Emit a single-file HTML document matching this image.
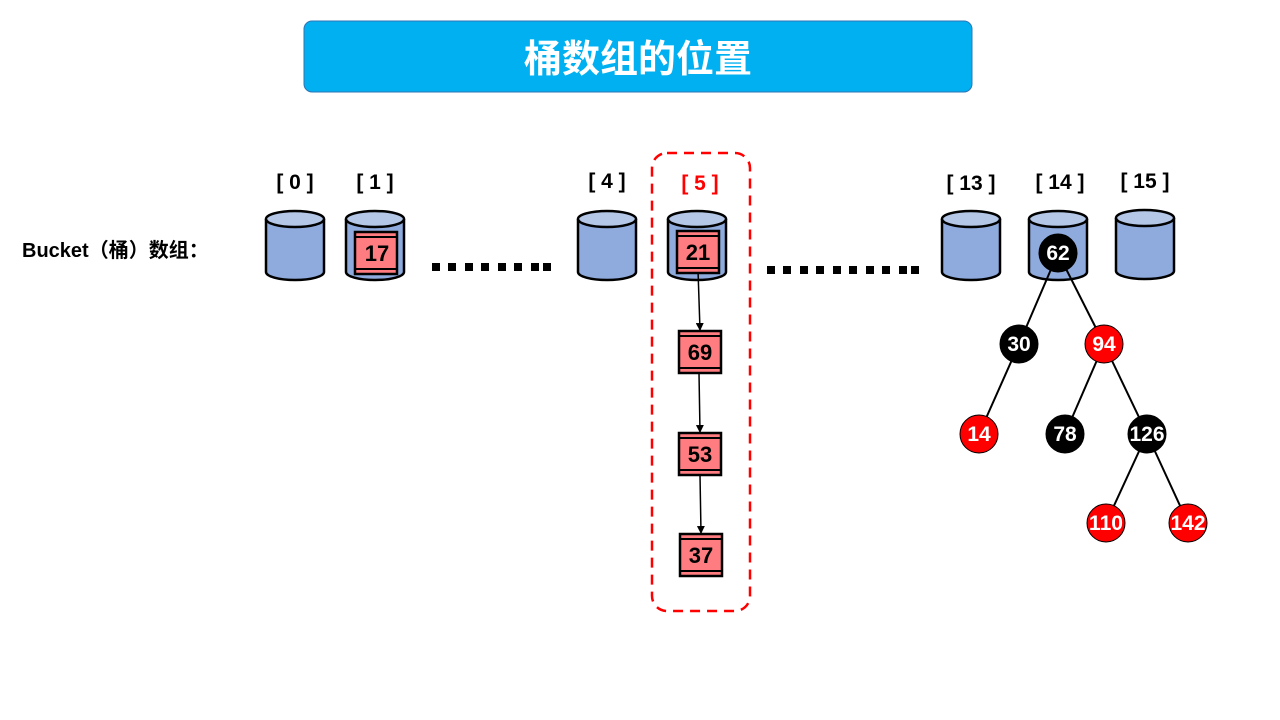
<!DOCTYPE html>
<html><head><meta charset="utf-8"><style>
html,body{margin:0;padding:0;background:#fff;width:1280px;height:720px;overflow:hidden}
text{font-family:"Liberation Sans","Noto Sans CJK SC",sans-serif;font-weight:bold}
</style></head><body>
<svg width="1280" height="720" viewBox="0 0 1280 720" xmlns="http://www.w3.org/2000/svg">
<defs>
<marker id="ar" markerWidth="8" markerHeight="8" refX="7" refY="4" orient="auto" markerUnits="userSpaceOnUse"><path d="M0,0 L8,4 L0,8 z" fill="#000"/></marker>
<g id="cyl">
<path d="M0,8 L0,61 A29,8 0 0 0 58,61 L58,8" fill="#8faadc" stroke="#000" stroke-width="2.5"/>
<ellipse cx="29" cy="8" rx="29" ry="8" fill="#b4c7e7" stroke="#000" stroke-width="2.5"/>
</g>
<g id="box">
<rect x="0" y="0" width="42" height="42" fill="#ff7c80" stroke="#000" stroke-width="2.5"/>
<line x1="0" y1="5" x2="42" y2="5" stroke="#000" stroke-width="2"/>
<line x1="0" y1="37" x2="42" y2="37" stroke="#000" stroke-width="2"/>
</g>
</defs>
<rect x="304" y="21" width="668" height="71" rx="8" fill="#00b0f0" stroke="#2e75b6" stroke-width="1"/>
<text x="638" y="72" font-size="38" fill="#fff" text-anchor="middle">桶数组的位置</text>

<text x="22" y="257" font-size="20" fill="#000">Bucket（桶）数组：</text>

<g font-size="21" text-anchor="middle">
<text x="295" y="189">[ 0 ]</text>
<text x="375" y="189">[ 1 ]</text>
<text x="607" y="188">[ 4 ]</text>
<text x="700" y="190" fill="#f00">[ 5 ]</text>
<text x="971" y="190">[ 13 ]</text>
<text x="1060" y="189">[ 14 ]</text>
<text x="1145" y="188">[ 15 ]</text>
</g>

<use href="#cyl" x="266" y="211"/>
<use href="#cyl" x="346" y="211"/>
<use href="#cyl" x="578" y="211"/>
<use href="#cyl" x="668" y="211"/>
<use href="#cyl" x="942" y="211"/>
<use href="#cyl" x="1029" y="211"/>
<use href="#cyl" x="1116" y="210"/>

<g fill="#000">
<rect x="432" y="263" width="8" height="8"/><rect x="448" y="263" width="8" height="8"/><rect x="465" y="263" width="8" height="8"/><rect x="481" y="263" width="8" height="8"/><rect x="498" y="263" width="8" height="8"/><rect x="514" y="263" width="8" height="8"/><rect x="531" y="263" width="8" height="8"/><rect x="543" y="263" width="8" height="8"/>
<rect x="767" y="266" width="8" height="8"/><rect x="783" y="266" width="8" height="8"/><rect x="800" y="266" width="8" height="8"/><rect x="816" y="266" width="8" height="8"/><rect x="833" y="266" width="8" height="8"/><rect x="849" y="266" width="8" height="8"/><rect x="866" y="266" width="8" height="8"/><rect x="882" y="266" width="8" height="8"/><rect x="899" y="266" width="8" height="8"/><rect x="911" y="266" width="8" height="8"/>
</g>

<g stroke="#000" stroke-width="1.5">
<line x1="698" y1="270" x2="700" y2="330" marker-end="url(#ar)"/>
<line x1="699" y1="373" x2="700" y2="432" marker-end="url(#ar)"/>
<line x1="700" y1="475" x2="701" y2="533" marker-end="url(#ar)"/>
</g>

<use href="#box" x="355" y="232"/>
<use href="#box" x="677" y="231"/>
<use href="#box" x="679" y="331"/>
<use href="#box" x="679" y="433"/>
<use href="#box" x="680" y="534"/>
<g font-size="22" text-anchor="middle">
<text x="377" y="261">17</text>
<text x="698" y="260">21</text>
<text x="700" y="360">69</text>
<text x="700" y="462">53</text>
<text x="701" y="563">37</text>
</g>

<rect x="652" y="153" width="98" height="458" rx="15" fill="none" stroke="#f00" stroke-width="2.5" stroke-dasharray="10,7"/>

<g stroke="#000" stroke-width="2">
<line x1="1058" y1="253" x2="1019" y2="344"/>
<line x1="1058" y1="253" x2="1104" y2="344"/>
<line x1="1019" y1="344" x2="979" y2="434"/>
<line x1="1104" y1="344" x2="1065" y2="434"/>
<line x1="1104" y1="344" x2="1147" y2="434"/>
<line x1="1147" y1="434" x2="1106" y2="523"/>
<line x1="1147" y1="434" x2="1188" y2="523"/>
</g>
<g stroke="#000" stroke-width="1">
<circle cx="1058" cy="253" r="19" fill="#000"/>
<circle cx="1019" cy="344" r="19" fill="#000"/>
<circle cx="1104" cy="344" r="19" fill="#f00"/>
<circle cx="979" cy="434" r="19" fill="#f00"/>
<circle cx="1065" cy="434" r="19" fill="#000"/>
<circle cx="1147" cy="434" r="19" fill="#000"/>
<circle cx="1106" cy="523" r="19" fill="#f00"/>
<circle cx="1188" cy="523" r="19" fill="#f00"/>
</g>
<g font-size="21" fill="#fff" text-anchor="middle">
<text x="1058" y="260">62</text>
<text x="1019" y="351">30</text>
<text x="1104" y="351">94</text>
<text x="979" y="441">14</text>
<text x="1065" y="441">78</text>
<text x="1147" y="441">126</text>
<text x="1106" y="530">110</text>
<text x="1188" y="530">142</text>
</g>
</svg>
</body></html>
